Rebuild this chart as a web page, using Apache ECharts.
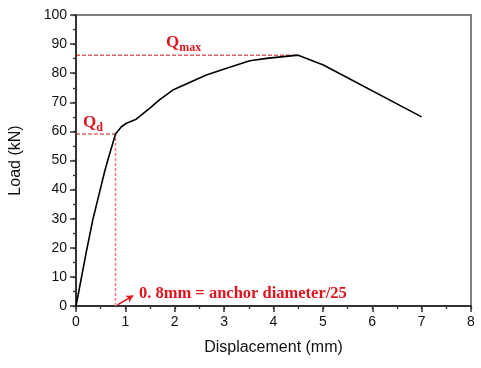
<!DOCTYPE html>
<html><head><meta charset="utf-8">
<script src="https://cdn.jsdelivr.net/npm/echarts@6/dist/echarts.min.js"></script>
<style>html,body{margin:0;padding:0;background:#fff}#c{width:481px;height:368px}</style>
</head><body><div id="c"></div>
<script>
const displacement = [0, 0.21, 0.34, 0.58, 0.645, 0.80, 0.92, 1.02, 1.22, 1.49, 1.69, 1.96, 2.64, 3.05, 3.52, 3.86, 4.50, 5.01, 7.00];
const load = [0, 18.7, 29.6, 46.2, 50.2, 59.1, 61.6, 62.8, 64.2, 67.9, 70.8, 74.2, 79.4, 81.7, 84.3, 85.1, 86.2, 82.8, 65.0];
const qd = { x: 0.8, y: 59.1 };
const qmax = { x: 4.5, y: 86.2 };
const xTicks = [0, 1, 2, 3, 4, 5, 6, 7, 8];
const yTicks = [0, 10, 20, 30, 40, 50, 60, 70, 80, 90, 100];

const chart = echarts.init(document.getElementById('c'), null, {renderer: 'canvas'});
const labelFont = 'Liberation Sans, Arial, sans-serif';
const axisCommon = {
  axisLine: {show: true, onZero: false, lineStyle: {color: '#333', width: 2}},
  axisTick: {show: true, inside: false, length: 6, lineStyle: {color: '#333', width: 1.5}},
  splitLine: {show: false},
  axisLabel: {color: '#111', fontSize: 14, fontFamily: labelFont, margin: 9},
  nameTextStyle: {color: '#111', fontSize: 16, fontFamily: labelFont}
};
const minorCommon = {
  type: 'value',
  axisLine: {show: false, onZero: false},
  axisTick: {show: true, inside: false, length: 3, lineStyle: {color: '#333', width: 1.3}},
  axisLabel: {show: false},
  splitLine: {show: false}
};
const red = '#e0141e';
chart.setOption({
  animation: false,
  grid: {left: 76, right: 10, top: 15, bottom: 62, show: true, borderColor: '#555', borderWidth: 1.5},
  xAxis: [
    Object.assign({}, axisCommon, {
      type: 'value', min: xTicks[0], max: xTicks[xTicks.length - 1], interval: 1,
      name: 'Displacement (mm)', nameLocation: 'middle', nameGap: 34, position: 'bottom'
    }),
    Object.assign({}, minorCommon, {min: xTicks[0], max: xTicks[xTicks.length - 1], interval: 0.5, position: 'bottom'})
  ],
  yAxis: [
    Object.assign({}, axisCommon, {
      type: 'value', min: yTicks[0], max: yTicks[yTicks.length - 1], interval: 10,
      name: 'Load (kN)', nameLocation: 'middle', nameGap: 52, position: 'left'
    }),
    Object.assign({}, minorCommon, {min: yTicks[0], max: yTicks[yTicks.length - 1], interval: 5, position: 'left'})
  ],
  series: [
    {type: 'line', data: displacement.map((d, i) => [d, load[i]]), symbol: 'none',
     lineStyle: {color: '#000', width: 1.6}, z: 5},
    {type: 'line', data: [[0, qmax.y], [qmax.x, qmax.y]], symbol: 'none',
     lineStyle: {color: '#c0141a', width: 1, type: [4, 2]}, z: 4},
    {type: 'line', data: [[0, qd.y], [qd.x, qd.y]], symbol: 'none',
     lineStyle: {color: '#d01418', width: 1, type: [4, 2]}, z: 4},
    {type: 'line', data: [[qd.x, 0], [qd.x, qd.y]], symbol: 'none',
     lineStyle: {color: '#f07880', width: 1.5, type: [3, 2]}, z: 4,
     markLine: {
       silent: true, symbol: ['none', 'arrow'], symbolSize: [6, 7],
       lineStyle: {color: red, width: 1.5, type: 'solid'},
       label: {show: false},
       data: [[{coord: [0.84, 0.4]}, {coord: [1.16, 3.6]}]]
     }}
  ],
  graphic: [
    {type: 'text', left: 166, top: 34, style: {
      text: '{q|Q}{s|max}', fill: red,
      rich: {q: {fontSize: 17, fontWeight: 'bold', fontFamily: 'Liberation Serif, serif', fill: red, verticalAlign: 'bottom'},
             s: {fontSize: 12, fontWeight: 'bold', fontFamily: 'Liberation Serif, serif', fill: red, verticalAlign: 'bottom', padding: [0, 0, -3, 0]}}}},
    {type: 'text', left: 83, top: 114, style: {
      text: '{q|Q}{s|d}', fill: red,
      rich: {q: {fontSize: 17, fontWeight: 'bold', fontFamily: 'Liberation Serif, serif', fill: red, verticalAlign: 'bottom'},
             s: {fontSize: 12, fontWeight: 'bold', fontFamily: 'Liberation Serif, serif', fill: red, verticalAlign: 'bottom', padding: [0, 0, -3, 0]}}}},
    {type: 'text', left: 139, top: 285, style: {
      text: '0. 8mm = anchor diameter/25', fill: red,
      font: 'bold 16.5px "Liberation Serif", serif'}}
  ]
});
</script></body></html>
